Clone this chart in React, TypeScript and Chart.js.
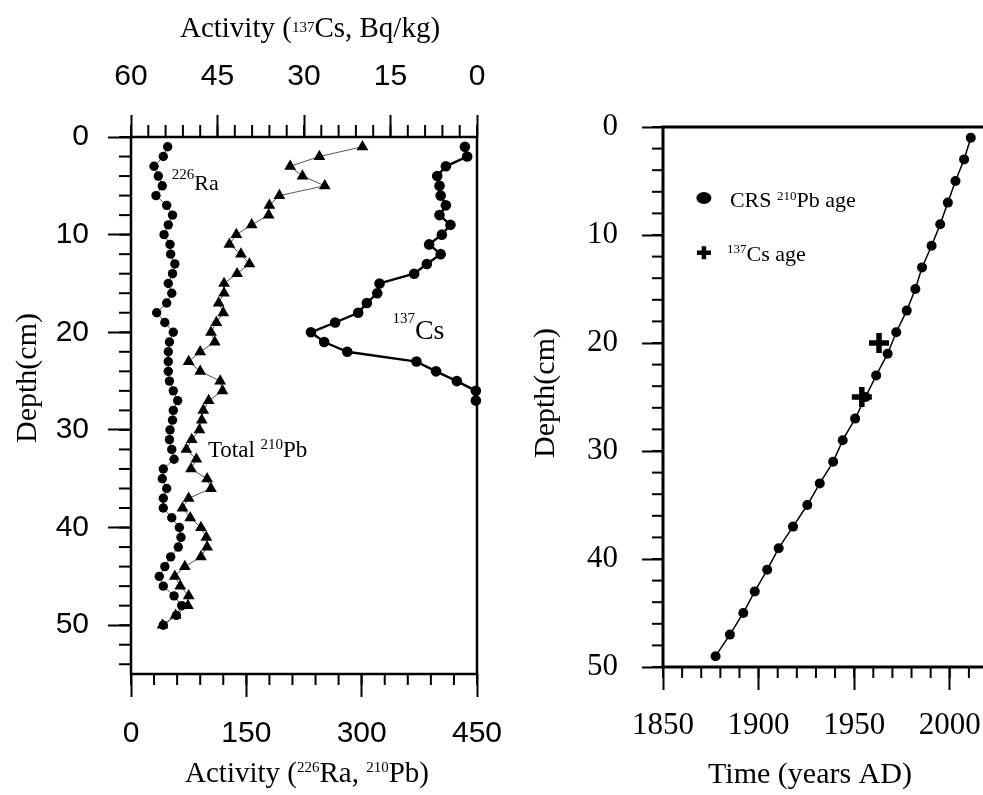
import React, { useEffect, useRef } from 'react';
import { Chart, registerables } from 'chart.js';

Chart.register(...registerables);

// ---------- Left panel data ----------
const raDepth = [1, 2, 3, 4, 5, 6, 7, 8, 9, 10, 11, 12, 13, 14, 15, 16, 17, 18, 19, 20, 21, 22, 23, 24, 25,
  26, 27, 28, 29, 30, 31, 32, 33, 34, 35, 36, 37, 38, 39, 40, 41, 42, 43, 44, 45, 46, 47, 48, 49, 50];
const raActivity = [47.7, 42, 30, 35.5, 40.7, 32.5, 46.4, 54, 48.5, 43, 50.7, 51.6, 57, 54, 48.5, 53, 46.4, 33.4, 44, 55,
  50, 48.5, 48.5, 48.5, 50, 55, 60.7, 55, 54, 50.7, 50, 53, 56, 42, 40.7, 46.4, 42, 42, 53, 62.9,
  65, 61.5, 51.6, 44, 36.8, 42, 56, 66, 59, 42];

const pbDepth = [1, 2, 3, 4, 5, 6, 7, 8, 9, 10, 11, 12, 13, 14, 15, 16, 17, 18, 19, 20, 21, 22, 23, 24, 25,
  26, 27, 28, 29, 30, 31, 32, 33, 34, 35, 36, 37, 38, 39, 40, 41, 42, 43, 44, 45, 46, 47, 48, 49, 50];
const pbActivity = [301, 245, 207, 223, 252, 193, 180, 179, 157, 137, 128, 143, 154, 138, 121, 121, 114, 120, 111, 104,
  109, 90, 75, 90, 116, 119, 101, 94, 92, 89, 79, 72, 85, 78, 99, 104, 75, 67, 77, 91,
  98, 99, 91, 70, 57, 64, 75, 74, 58, 41];

const csDepth = [1, 2, 3, 4, 5, 6, 7, 8, 9, 10, 11, 12, 13, 14, 15, 16, 17, 18, 19, 20, 21, 22, 23, 24, 25, 26, 27];
const csActivity = [2.1, 1.7, 5.4, 6.9, 6.5, 6.3, 5.4, 6.5, 4.6, 6.1, 8.3, 6.3, 8.7, 10.9, 16.9, 17.3, 19.1, 20.6, 24.6,
  28.8, 26.5, 22.5, 10.5, 7.1, 3.5, 0.2, 0.2];

const activityTicks = [0, 150, 300, 450];
const csTicks = [60, 45, 30, 15, 0];
const leftDepthTicks = [0, 10, 20, 30, 40, 50];

// ---------- Right panel data ----------
const crsDepth = [1, 3, 5, 7, 9, 11, 13, 15, 17, 19, 21, 23, 25, 27, 29, 31, 33, 35, 37, 39, 41, 43, 45, 47, 49];
const crsYear = [2011, 2007.5, 2003, 1999, 1995, 1990.5, 1985.5, 1982, 1977.5, 1972, 1967.5, 1961.5, 1956, 1950.5,
  1944, 1939, 1932, 1925.5, 1918, 1910.5, 1904.5, 1898, 1892, 1885, 1877.5];
const csAgeDepth = [20, 25];
const csAgeYear = [1963, 1954];

const yearTicks = [1850, 1900, 1950, 2000];
const rightDepthTicks = [0, 10, 20, 30, 40, 50];

// ---------- helpers ----------
const SERIF = '"Liberation Serif", "Times New Roman", serif';
const SANS = '"Liberation Sans", Arial, sans-serif';

type Seg = [string, boolean?];

function drawRich(
  ctx: CanvasRenderingContext2D, segs: Seg[], x: number, y: number,
  size: number, supSize: number, raise: number, align: 'left' | 'center'
) {
  const widths = segs.map(([t, sup]) => {
    ctx.font = `${sup ? supSize : size}px ${SERIF}`;
    return ctx.measureText(t).width;
  });
  const total = widths.reduce((a, b) => a + b, 0);
  let cx = align === 'center' ? x - total / 2 : x;
  ctx.textAlign = 'left';
  ctx.textBaseline = 'alphabetic';
  ctx.fillStyle = '#000';
  segs.forEach(([t, sup], i) => {
    ctx.font = `${sup ? supSize : size}px ${SERIF}`;
    ctx.fillText(t, cx, sup ? y - raise : y);
    cx += widths[i];
  });
}

function drawRotated(ctx: CanvasRenderingContext2D, segs: Seg[], bx: number, cy: number, size: number) {
  ctx.save();
  ctx.translate(bx, cy);
  ctx.rotate(-Math.PI / 2);
  drawRich(ctx, segs, 0, 0, size, size * 0.55, size * 0.4, 'center');
  ctx.restore();
}

function seg(ctx: CanvasRenderingContext2D, x1: number, y1: number, x2: number, y2: number) {
  ctx.beginPath();
  ctx.moveTo(x1, y1);
  ctx.lineTo(x2, y2);
  ctx.stroke();
}

const fixTicks = (vals: number[]) => (s: any) => {
  s.ticks = vals.map((v) => ({ value: v }));
};

const fitSize = (dim: 'width' | 'height', v: number) => (s: any) => {
  s[dim] = v;
  s.paddingLeft = 0;
  s.paddingRight = 0;
  s.paddingTop = 0;
  s.paddingBottom = 0;
};

const tickGrid = (len: number) => ({
  drawOnChartArea: false,
  drawTicks: true,
  tickLength: len,
  tickWidth: 2,
  tickColor: '#000',
});

const plain = (v: any) => String(v);

// ---------- plugins ----------
const leftDecor = {
  id: 'leftDecor',
  beforeDatasetsDraw(chart: any) {
    const ctx: CanvasRenderingContext2D = chart.ctx;
    const a = chart.chartArea;
    const xs = chart.scales.x, x2 = chart.scales.x2, ys = chart.scales.y;
    ctx.save();
    ctx.strokeStyle = '#000';
    ctx.lineWidth = 2.5;
    ctx.strokeRect(a.left, a.top, a.right - a.left, a.bottom - a.top);
    ctx.lineWidth = 2;
    for (let v = 0; v <= 450; v += 30) {
      const p = xs.getPixelForValue(v);
      seg(ctx, p, a.bottom, p, a.bottom + 11);
    }
    for (let v = 0; v <= 60; v += 3) {
      const p = x2.getPixelForValue(v);
      seg(ctx, p, a.top, p, a.top - 12);
    }
    for (let v = 0; v <= 54; v += 2) {
      const p = ys.getPixelForValue(v);
      seg(ctx, a.left, p, a.left - 12, p);
    }
    ctx.restore();
  },
  afterDraw(chart: any) {
    const ctx: CanvasRenderingContext2D = chart.ctx;
    const a = chart.chartArea;
    const xs = chart.scales.x, ys = chart.scales.y;
    ctx.save();
    drawRich(ctx, [['Activity ('], ['137', true], ['Cs, Bq/kg)']], a.left + 179, a.top - 100, 29, 15, 5, 'center');
    drawRich(ctx, [['Activity ('], ['226', true], ['Ra, '], ['210', true], ['Pb)']], a.left + 176, a.bottom + 108, 29, 15, 10, 'center');
    drawRotated(ctx, [['Depth(cm)']], a.left - 95, a.top + 241, 30);
    drawRich(ctx, [['226', true], ['Ra']], xs.getPixelForValue(53), ys.getPixelForValue(5.4), 22, 15, 11, 'left');
    drawRich(ctx, [['Total '], ['210', true], ['Pb']], xs.getPixelForValue(100), ys.getPixelForValue(32.8), 23, 15, 8, 'left');
    drawRich(ctx, [['137', true], ['Cs']], xs.getPixelForValue(340), ys.getPixelForValue(20.7), 28, 15, 16, 'left');
    ctx.restore();
  },
};

const rightDecor = {
  id: 'rightDecor',
  beforeDatasetsDraw(chart: any) {
    const ctx: CanvasRenderingContext2D = chart.ctx;
    const a = chart.chartArea;
    const xs = chart.scales.x, ys = chart.scales.y;
    ctx.save();
    ctx.strokeStyle = '#000';
    ctx.lineWidth = 3;
    ctx.strokeRect(a.left, a.top, a.right - a.left, a.bottom - a.top);
    ctx.lineWidth = 2;
    for (let v = 1850; v <= 2020; v += 10) {
      const p = xs.getPixelForValue(v);
      seg(ctx, p, a.bottom, p, a.bottom + 11);
    }
    for (let v = 0; v <= 50; v += 2) {
      const p = ys.getPixelForValue(v);
      seg(ctx, a.left, p, a.left - 11, p);
    }
    ctx.restore();
  },
  afterDraw(chart: any) {
    const ctx: CanvasRenderingContext2D = chart.ctx;
    const a = chart.chartArea;
    const xs = chart.scales.x, ys = chart.scales.y;
    ctx.save();
    drawRich(ctx, [['Time (years AD)']], a.left + 147, a.bottom + 116, 30, 15, 8, 'center');
    drawRotated(ctx, [['Depth(cm)']], a.left - 109, a.top + 266, 30);
    // legend
    const mx = xs.getPixelForValue(1871.4);
    const c1 = ys.getPixelForValue(6.57);
    ctx.fillStyle = '#000';
    ctx.beginPath();
    ctx.ellipse(mx, c1, 7.5, 6, 0, 0, Math.PI * 2);
    ctx.fill();
    const c2 = ys.getPixelForValue(11.64);
    ctx.strokeStyle = '#000';
    ctx.lineWidth = 4.5;
    seg(ctx, mx - 7, c2, mx + 7, c2);
    seg(ctx, mx, c2 - 6.5, mx, c2 + 6.5);
    drawRich(ctx, [['CRS '], ['210', true], ['Pb age']], xs.getPixelForValue(1885), ys.getPixelForValue(7.4), 22, 13, 7, 'left');
    drawRich(ctx, [['137', true], ['Cs age']], xs.getPixelForValue(1883.5), ys.getPixelForValue(12.4), 22, 13, 8, 'left');
    ctx.restore();
  },
};

function leftConfig(): any {
  return {
    type: 'scatter',
    data: {
      datasets: [
        {
          label: 'Ra-226',
          data: raDepth.map((d, i) => ({ x: raActivity[i], y: d })),
          xAxisID: 'x', yAxisID: 'y',
          showLine: true, borderColor: '#555', borderWidth: 1,
          pointStyle: 'circle', pointRadius: 4.7,
          pointBackgroundColor: '#000', pointBorderColor: '#000', pointBorderWidth: 0,
          clip: false,
        },
        {
          label: 'Total Pb-210',
          data: pbDepth.map((d, i) => ({ x: pbActivity[i], y: d })),
          xAxisID: 'x', yAxisID: 'y',
          showLine: true, borderColor: '#555', borderWidth: 1,
          pointStyle: 'triangle', pointRadius: 6.8,
          pointBackgroundColor: '#000', pointBorderColor: '#000', pointBorderWidth: 0,
          clip: false,
        },
        {
          label: 'Cs-137',
          data: csDepth.map((d, i) => ({ x: csActivity[i], y: d })),
          xAxisID: 'x2', yAxisID: 'y',
          showLine: true, borderColor: '#000', borderWidth: 2.4,
          pointStyle: 'circle', pointRadius: 5.3,
          pointBackgroundColor: '#000', pointBorderColor: '#000', pointBorderWidth: 0,
          clip: false,
        },
      ],
    },
    options: {
      responsive: false,
      animation: false,
      layout: { padding: { left: 0, top: 0, right: 53, bottom: 0 } },
      plugins: { legend: { display: false }, tooltip: { enabled: false } },
      scales: {
        x: {
          type: 'linear', position: 'bottom', min: 0, max: 450,
          afterBuildTicks: fixTicks(activityTicks),
          afterFit: fitSize('height', 121),
          ticks: { autoSkip: false, maxRotation: 0, padding: 19, color: '#000', callback: plain, font: { family: SANS, size: 30 } },
          grid: tickGrid(23),
          border: { display: false },
        },
        x2: {
          type: 'linear', position: 'top', min: 0, max: 60, reverse: true,
          afterBuildTicks: fixTicks(csTicks),
          afterFit: fitSize('height', 137),
          ticks: { autoSkip: false, maxRotation: 0, padding: 20, color: '#000', callback: plain, font: { family: SANS, size: 30 } },
          grid: tickGrid(22),
          border: { display: false },
        },
        y: {
          type: 'linear', position: 'left', min: 0, max: 55, reverse: true,
          afterBuildTicks: fixTicks(leftDepthTicks),
          afterFit: fitSize('width', 131),
          ticks: { autoSkip: false, padding: 19, color: '#000', callback: plain, font: { family: SANS, size: 30 } },
          grid: tickGrid(23),
          border: { display: false },
        },
      },
    },
    plugins: [leftDecor],
  };
}

function rightConfig(): any {
  return {
    type: 'scatter',
    data: {
      datasets: [
        {
          label: 'CRS Pb-210 age',
          data: crsDepth.map((d, i) => ({ x: crsYear[i], y: d })),
          showLine: true, borderColor: '#000', borderWidth: 1.5,
          pointStyle: 'circle', pointRadius: 5,
          pointBackgroundColor: '#000', pointBorderColor: '#000', pointBorderWidth: 0,
          clip: false,
        },
        {
          label: 'Cs-137 age',
          data: csAgeDepth.map((d, i) => ({ x: csAgeYear[i], y: d })),
          showLine: false,
          pointStyle: 'cross', pointRadius: 10,
          pointBorderColor: '#000', pointBorderWidth: 5.5,
          clip: false,
        },
      ],
    },
    options: {
      responsive: false,
      animation: false,
      layout: { padding: { left: 0, top: 127, right: 22, bottom: 0 } },
      plugins: { legend: { display: false }, tooltip: { enabled: false } },
      scales: {
        x: {
          type: 'linear', position: 'bottom', min: 1850, max: 2020,
          afterBuildTicks: fixTicks(yearTicks),
          afterFit: fitSize('height', 128),
          ticks: { autoSkip: false, maxRotation: 0, padding: 17, color: '#000', callback: plain, font: { family: SERIF, size: 31 } },
          grid: tickGrid(23),
          border: { display: false },
        },
        y: {
          type: 'linear', position: 'left', min: 0, max: 50, reverse: true,
          afterBuildTicks: fixTicks(rightDepthTicks),
          afterFit: fitSize('width', 163),
          ticks: { autoSkip: false, padding: 24, color: '#000', callback: plain, font: { family: SERIF, size: 31 } },
          grid: tickGrid(21),
          border: { display: false },
        },
      },
    },
    plugins: [rightDecor],
  };
}

export default function App() {
  const leftRef = useRef<HTMLCanvasElement>(null);
  const rightRef = useRef<HTMLCanvasElement>(null);

  useEffect(() => {
    const l = new Chart(leftRef.current as HTMLCanvasElement, leftConfig());
    const r = new Chart(rightRef.current as HTMLCanvasElement, rightConfig());
    return () => {
      l.destroy();
      r.destroy();
    };
  }, []);

  return (
    <div style={{ position: 'absolute', left: 0, top: 0, width: 983, height: 795, overflow: 'hidden', background: '#fff' }}>
      <canvas ref={leftRef} width={530} height={795}
        style={{ position: 'absolute', left: 0, top: 0, width: 530, height: 795 }} />
      <canvas ref={rightRef} width={510} height={795}
        style={{ position: 'absolute', left: 500, top: 0, width: 510, height: 795 }} />
    </div>
  );
}
